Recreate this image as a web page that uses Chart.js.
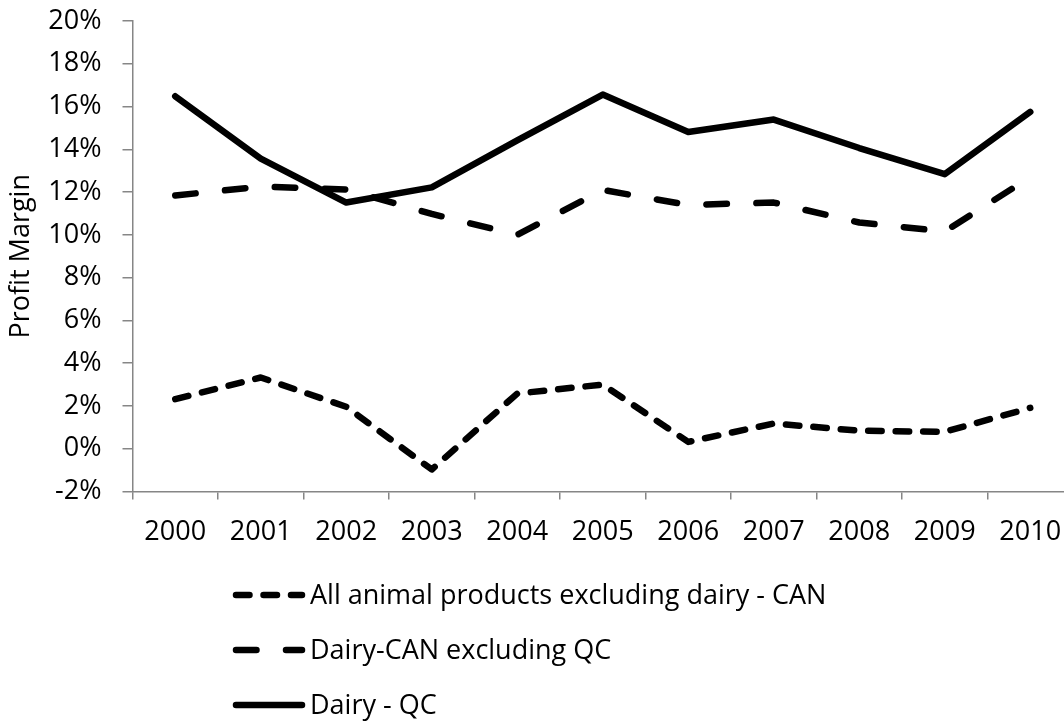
<!DOCTYPE html>
<html>

<head>
  <title>Profit Margin</title>
  <script src="https://cdn.jsdelivr.net/npm/chart.js"></script>
  <style>
    html, body { margin: 0; padding: 0; overflow: hidden; background: #fff; }
    #wrap { width: 1090px; height: 722px; }
  </style>
</head>

<body>
  <div id="wrap"><canvas id="myChart" width="1090" height="722"></canvas></div>
  <script>
    // data
    var years = ['2000', '2001', '2002', '2003', '2004', '2005', '2006', '2007', '2008', '2009', '2010'];
    var allAnimal = [2.32, 3.33, 1.96, -0.97, 2.58, 3.0, 0.32, 1.18, 0.84, 0.79, 1.91];
    var dairyCan = [11.84, 12.26, 12.12, 10.98, 10.0, 12.1, 11.4, 11.51, 10.58, 10.16, 12.7];
    var dairyQc = [16.48, 13.56, 11.51, 12.22, 14.42, 16.56, 14.81, 15.39, 14.06, 12.84, 15.75];
    var yTicks = [-2, 0, 2, 4, 6, 8, 10, 12, 14, 16, 18, 20];

    var seriesNames = ['All animal products excluding dairy - CAN', 'Dairy-CAN excluding QC', 'Dairy - QC'];
    var dashes = [[13.5, 14], [20.5, 29.5], []];

    var FONT = '"Open Sans", sans-serif';
    var FSIZE = 27;
    var axisGrey = '#868686';

    // legend below the plot, one entry per row
    var bottomLegend = {
      id: 'bottomLegend',
      afterDraw: function (chart) {
        var ctx = chart.ctx;
        var rows = [595, 650, 705];
        ctx.save();
        for (var i = 0; i < 3; i++) {
          ctx.beginPath();
          ctx.strokeStyle = '#000';
          ctx.lineWidth = 6.5;
          ctx.lineCap = 'round';
          ctx.setLineDash(dashes[i]);
          ctx.moveTo(236, rows[i]);
          ctx.lineTo(302, rows[i]);
          ctx.stroke();
          ctx.setLineDash([]);
          ctx.fillStyle = '#000';
          ctx.font = FSIZE + 'px ' + FONT;
          ctx.textBaseline = 'middle';
          ctx.textAlign = 'left';
          ctx.fillText(seriesNames[i], 310, rows[i] + 1);
        }
        ctx.restore();
      }
    };

    function makeSet(i, values) {
      return {
        label: seriesNames[i],
        data: values,
        borderColor: '#000',
        backgroundColor: '#000',
        borderWidth: 6.5,
        borderDash: dashes[i],
        borderCapStyle: 'round',
        borderJoinStyle: 'round',
        pointRadius: 0,
        tension: 0,
        fill: false
      };
    }

    var ctx = document.getElementById('myChart').getContext('2d');
    Chart.defaults.font.family = FONT;
    Chart.defaults.font.size = FSIZE;
    Chart.defaults.color = '#000';
    var chart = new Chart(ctx, {
      type: 'line',
      data: {
        labels: years,
        datasets: [makeSet(0, allAnimal), makeSet(1, dairyCan), makeSet(2, dairyQc)]
      },
      plugins: [bottomLegend],
      options: {
        responsive: false,
        animation: false,
        layout: { padding: { left: 0, top: 21, right: 17, bottom: 180.5 } },
        plugins: {
          legend: { display: false },
          tooltip: { enabled: false }
        },
        scales: {
          x: {
            offset: true,
            grid: { offset: true, drawOnChartArea: false, drawTicks: true, tickLength: 8, color: axisGrey, lineWidth: 1.5 },
            border: { color: axisGrey, width: 1.5 },
            ticks: { padding: 17, maxRotation: 0, autoSkip: false },
            afterFit: function (axis) {
              axis.height = 50;
              axis.paddingLeft = 0;
              axis.paddingRight = 0;
            }
          },
          y: {
            min: -2,
            max: 20,
            afterBuildTicks: function (axis) {
              axis.ticks = yTicks.map(function (v) { return { value: v }; });
            },
            grid: { drawOnChartArea: false, drawTicks: true, tickLength: 10, color: axisGrey, lineWidth: 1.5 },
            border: { color: axisGrey, width: 1.5 },
            ticks: {
              padding: 21,
              callback: function (v) { return v + '%'; }
            },
            title: { display: true, text: 'Profit Margin', padding: { top: 5, bottom: 0 } },
            afterFit: function (axis) {
              axis.width = 132.5;
              axis.paddingTop = 0;
              axis.paddingBottom = 0;
            }
          }
        }
      }
    });
  </script>
</body>

</html>
